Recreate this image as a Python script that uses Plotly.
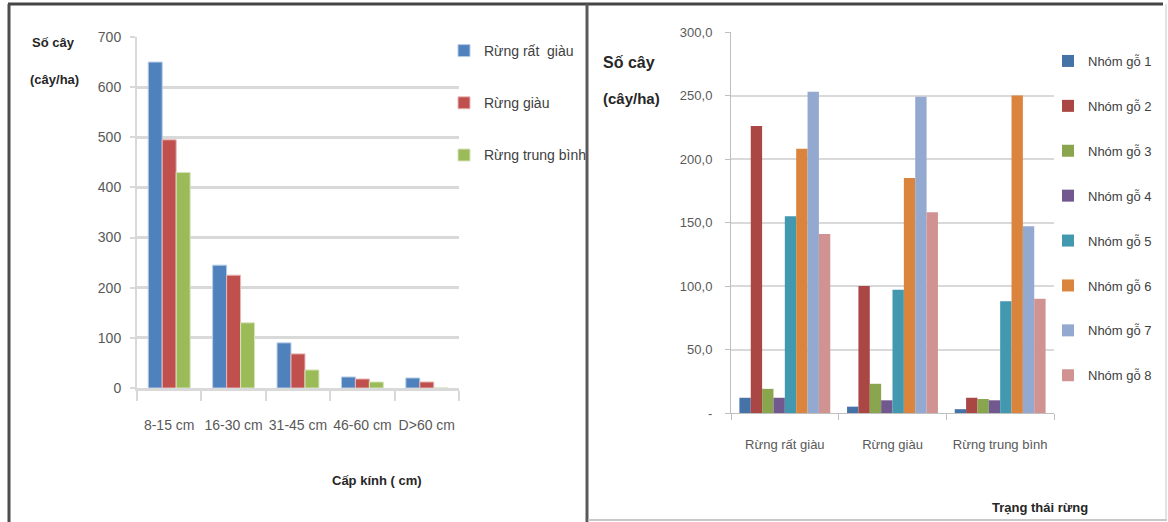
import plotly.graph_objects as go

# ---- data: left chart (trees per hectare by diameter class) ----
diameter_classes = ["8-15 cm", "16-30 cm", "31-45 cm", "46-60 cm", "D>60 cm"]
forest_states_left = ["Rừng rất  giàu", "Rừng giàu", "Rừng trung bình"]
very_rich = [650, 245, 90, 22, 20]
rich = [495, 225, 68, 18, 12]
medium = [430, 130, 36, 12, 0]
left_series = [very_rich, rich, medium]

# ---- data: right chart (trees per hectare by wood group) ----
forest_states = ["Rừng rất giàu", "Rừng giàu", "Rừng trung bình"]
wood_groups = ["Nhóm gỗ 1", "Nhóm gỗ 2", "Nhóm gỗ 3", "Nhóm gỗ 4",
               "Nhóm gỗ 5", "Nhóm gỗ 6", "Nhóm gỗ 7", "Nhóm gỗ 8"]
group1 = [12, 5, 3]
group2 = [226, 100, 12]
group3 = [19, 23, 11]
group4 = [12, 10, 10]
group5 = [155, 97, 88]
group6 = [208, 185, 250]
group7 = [253, 249, 147]
group8 = [141, 158, 90]
right_series = [group1, group2, group3, group4, group5, group6, group7, group8]

left_ticks = [0, 100, 200, 300, 400, 500, 600, 700]
right_tickvals = [0, 50, 100, 150, 200, 250, 300]
right_ticktext = ["-", "50,0", "100,0", "150,0", "200,0", "250,0", "300,0"]

# ---- styling ----
W, H = 1168, 522
FONT = "Liberation Sans, Arial, sans-serif"
GRID = "#D9D9D9"
left_colors = ["#4F81BD", "#C0504D", "#9BBB59"]
left_edges = ["#B9CDE5", "#E6B9B8", "#D7E4BD"]
right_colors = ["#4572A7", "#AA4643", "#89A54E", "#71588F",
                "#4198AF", "#DB843D", "#93A9CF", "#D19392"]


def px_x(x):
    return x / W


def px_y(y):
    return 1 - y / H


fig = go.Figure()

# left chart bars: three bars per category, explicit width/offset
lw = 0.217
for i, (name, vals) in enumerate(zip(forest_states_left, left_series)):
    fig.add_trace(go.Bar(
        x=diameter_classes, y=vals, name=name,
        marker=dict(color=left_colors[i], line=dict(color=left_edges[i], width=1)),
        width=lw, offset=-1.5 * lw + i * lw,
        xaxis="x", yaxis="y", legend="legend", legendgroup="l%d" % i,
    ))

# right chart bars: eight bars per forest state
rw = 0.1055
for i, (name, vals) in enumerate(zip(wood_groups, right_series)):
    fig.add_trace(go.Bar(
        x=forest_states, y=vals, name=name,
        marker=dict(color=right_colors[i], line=dict(width=0)),
        width=rw, offset=-4 * rw + i * rw,
        xaxis="x2", yaxis="y2", legend="legend2", legendgroup="r%d" % i,
    ))

tick_font = dict(family=FONT, size=14, color="#595959")
tick_font_r = dict(family=FONT, size=13, color="#595959")

fig.update_layout(
    template="none",
    width=W, height=H,
    margin=dict(l=0, r=0, t=0, b=0, pad=0, autoexpand=False),
    paper_bgcolor="white", plot_bgcolor="white",
    barmode="overlay",
    xaxis=dict(
        domain=[px_x(137), px_x(459)], anchor="y", type="category",
        tickson="boundaries", ticks="outside", ticklen=10, tickwidth=2,
        tickcolor=GRID, showline=True, linecolor=GRID, linewidth=3,
        showgrid=False, tickfont=tick_font, ticklabelstandoff=22,
        tickangle=0, automargin=False,
    ),
    yaxis=dict(
        domain=[px_y(388), px_y(37)], anchor="x", range=[0, 700],
        tickvals=left_ticks, ticks="outside", ticklen=5, tickwidth=2,
        tickcolor=GRID, gridcolor=GRID, gridwidth=3, showline=True,
        linecolor=GRID, linewidth=2, zeroline=False, tickfont=tick_font,
        ticklabelstandoff=6, automargin=False,
    ),
    xaxis2=dict(
        domain=[px_x(731), px_x(1054)], anchor="y2", type="category",
        tickson="boundaries", ticks="outside", ticklen=6, tickwidth=1,
        tickcolor="#BFBFBF", showline=True, linecolor="#BFBFBF", linewidth=1,
        showgrid=False, tickfont=tick_font_r, ticklabelstandoff=19,
        tickangle=0, automargin=False,
    ),
    yaxis2=dict(
        domain=[px_y(413), px_y(32)], anchor="x2", range=[0, 300],
        tickvals=right_tickvals, ticktext=right_ticktext, ticks="outside",
        ticklen=5, tickwidth=1, tickcolor="#BFBFBF", gridcolor=GRID,
        gridwidth=2, showline=True, linecolor="#BFBFBF", linewidth=1,
        zeroline=False, tickfont=tick_font_r, ticklabelstandoff=10,
        automargin=False,
    ),
    legend=dict(
        x=px_x(444), y=px_y(35), xanchor="left", yanchor="top",
        font=dict(family=FONT, size=14, color="#404040"),
        tracegroupgap=31, bgcolor="rgba(0,0,0,0)",
    ),
    legend2=dict(
        x=px_x(1048), y=px_y(46), xanchor="left", yanchor="top",
        font=dict(family=FONT, size=13, color="#404040"),
        tracegroupgap=25, bgcolor="rgba(0,0,0,0)",
    ),
)

title_font = dict(family=FONT, size=13, color="#262626")
annotations = [
    dict(text="<b>Số cây</b>", x=px_x(53), y=px_y(42)),
    dict(text="<b>(cây/ha)</b>", x=px_x(54), y=px_y(80)),
    dict(text="<b>Cấp kính ( cm)</b>", x=px_x(377), y=px_y(480)),
    dict(text="<b>Số cây</b>", x=px_x(629), y=px_y(62), size=16),
    dict(text="<b>(cây/ha)</b>", x=px_x(631), y=px_y(98), size=15),
    dict(text="<b>Trạng thái rừng</b>", x=px_x(1040), y=px_y(507)),
]
for a in annotations:
    f = dict(title_font)
    if "size" in a:
        f["size"] = a.pop("size")
    fig.add_annotation(xref="paper", yref="paper", xanchor="center",
                       yanchor="middle", showarrow=False, font=f, **a)

# panel frames
frame = [
    dict(x0=8, y0=4, x1=1163, y1=4, color="#454545", width=3),
    dict(x0=9, y0=4, x1=9, y1=522, color="#4D4D4D", width=3),
    dict(x0=587, y0=4, x1=587, y1=522, color="#5A5A5A", width=3),
    dict(x0=588, y0=520, x1=1167, y1=520, color="#C8C8C8", width=2),
    dict(x0=1166, y0=4, x1=1166, y1=520, color="#C8C8C8", width=1),
]
for s in frame:
    fig.add_shape(type="line", xref="paper", yref="paper",
                  x0=px_x(s["x0"]), y0=px_y(s["y0"]),
                  x1=px_x(s["x1"]), y1=px_y(s["y1"]),
                  line=dict(color=s["color"], width=s["width"]))

fig.write_html("out.html")
